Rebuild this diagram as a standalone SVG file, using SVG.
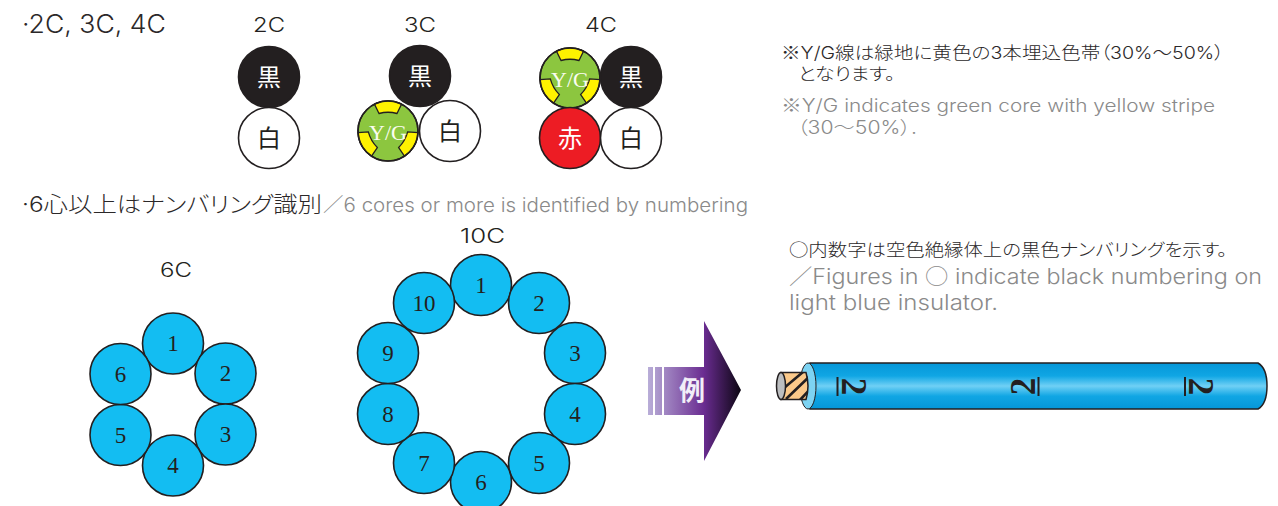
<svg xmlns="http://www.w3.org/2000/svg" width="1278" height="506" viewBox="0 0 1278 506">
<style>
text{font-family:"Inter","Noto Sans CJK JP","Noto Sans",sans-serif;font-weight:300;font-feature-settings:"palt"}
.c{stroke:#231f20;stroke-width:1.6}
.k{fill:#231f20}.w{fill:#fff}.r{fill:#ed1c24}.g{fill:#8cc63f}.b{fill:#13bdf2}
text.kj{font-family:"Noto Sans CJK JP",sans-serif;font-size:24px;text-anchor:middle;font-weight:400}
.t{fill:#231f20}
.h{font-size:20px;fill:#231f20}
text.n{font-family:"Liberation Serif",serif;font-weight:400;font-size:23px;text-anchor:middle;fill:#231f20}
text.yg{font-family:"Liberation Serif",serif;font-weight:400;font-size:22px;text-anchor:middle;fill:#fbfdf2}
.gr{fill:#8a8a8a}
.bk{fill:#2b2829}
tspan.j{font-family:"Noto Sans CJK JP",sans-serif}
text.d{font-family:"Liberation Serif",serif;font-weight:700;font-size:35px;text-anchor:middle;fill:#231f20}
</style>
<defs>
<path id="ys" d="M-13.500-26.800A30 30 0 0 1 13.500-26.800L9-17.500Q0-20-9-17.500Z" fill="#fff200" stroke="#231f20" stroke-width="1.300"/>
<g id="yg"><circle r="30" class="g c"/><use href="#ys"/><use href="#ys" transform="rotate(120)"/><use href="#ys" transform="rotate(240)"/><circle r="30" fill="none" class="c"/><text y="9" class="yg">Y/G</text></g>
<linearGradient id="ag" gradientUnits="userSpaceOnUse" x1="648" y1="0" x2="741" y2="0"><stop offset="0" stop-color="#b9aed8"/><stop offset="0.6" stop-color="#6a2c91"/><stop offset="1" stop-color="#0c0612"/></linearGradient>
<linearGradient id="cg" x1="0" y1="0" x2="0" y2="1"><stop offset="0" stop-color="#0596d8"/><stop offset="0.28" stop-color="#10a6e4"/><stop offset="0.5" stop-color="#70d0f5"/><stop offset="0.72" stop-color="#10a6e4"/><stop offset="1" stop-color="#0596d8"/></linearGradient>
<clipPath id="cc"><path d="M782 372H808V400H782Z"/></clipPath>
</defs>

<g id="headings">
<text x="22" y="33" font-size="25" class="bk" textLength="144" lengthAdjust="spacingAndGlyphs">·2C, 3C, 4C</text>
<text x="253" y="32" class="h" textLength="32" lengthAdjust="spacingAndGlyphs">2C</text>
<text x="404" y="32" class="h" textLength="32" lengthAdjust="spacingAndGlyphs">3C</text>
<text x="585" y="32" class="h" textLength="32" lengthAdjust="spacingAndGlyphs">4C</text>
<text x="22" y="212" font-size="22" class="bk" textLength="300" lengthAdjust="spacingAndGlyphs">·6心以上はナンバリング識別</text>
<text x="323" y="212" font-size="19.500" class="gr" textLength="425" lengthAdjust="spacingAndGlyphs">／6 cores or more is identified by numbering</text>
<text x="160" y="277" class="h" textLength="32" lengthAdjust="spacingAndGlyphs">6C</text>
<text x="460" y="243" class="h" textLength="45" lengthAdjust="spacingAndGlyphs">10C</text>
</g>

<g id="c2">
<circle cx="269" cy="77" r="30.500" class="k c"/><text x="269" y="86" class="kj w">黒</text>
<circle cx="269" cy="138" r="30.500" class="w c"/><text x="269" y="147" class="kj t">白</text>
</g>
<g id="c3">
<circle cx="420" cy="76" r="30.500" class="k c"/><text x="420" y="85" class="kj w">黒</text>
<use href="#yg" x="388" y="131"/>
<circle cx="450" cy="131" r="30.500" class="w c"/><text x="450" y="140" class="kj t">白</text>
</g>
<g id="c4">
<use href="#yg" x="570" y="78"/>
<circle cx="631" cy="77" r="30.500" class="k c"/><text x="631" y="86" class="kj w">黒</text>
<circle cx="570" cy="138" r="30.500" class="r c"/><text x="570" y="147" class="kj w">赤</text>
<circle cx="631" cy="138" r="30.500" class="w c"/><text x="631" y="147" class="kj t">白</text>
</g>

<g id="c6">
<circle cx="173" cy="343.500" r="30.500" class="b c"/><text x="173" y="351" class="n">1</text>
<circle cx="225.500" cy="373.500" r="30.500" class="b c"/><text x="225.500" y="381" class="n">2</text>
<circle cx="225.500" cy="434.500" r="30.500" class="b c"/><text x="225.500" y="442" class="n">3</text>
<circle cx="173" cy="465.500" r="30.500" class="b c"/><text x="173" y="473" class="n">4</text>
<circle cx="120.500" cy="435" r="30.500" class="b c"/><text x="120.500" y="443" class="n">5</text>
<circle cx="120.500" cy="374" r="30.500" class="b c"/><text x="120.500" y="382" class="n">6</text>
</g>
<g id="c10">
<circle cx="481" cy="285" r="30.500" class="b c"/><text x="481" y="293" class="n">1</text>
<circle cx="539" cy="303" r="30.500" class="b c"/><text x="539" y="311" class="n">2</text>
<circle cx="575" cy="353" r="30.500" class="b c"/><text x="575" y="361" class="n">3</text>
<circle cx="575" cy="414" r="30.500" class="b c"/><text x="575" y="422" class="n">4</text>
<circle cx="539" cy="463" r="30.500" class="b c"/><text x="539" y="471" class="n">5</text>
<circle cx="481" cy="482" r="30.500" class="b c"/><text x="481" y="490" class="n">6</text>
<circle cx="424" cy="463" r="30.500" class="b c"/><text x="424" y="471" class="n">7</text>
<circle cx="388" cy="414" r="30.500" class="b c"/><text x="388" y="422" class="n">8</text>
<circle cx="388" cy="353" r="30.500" class="b c"/><text x="388" y="361" class="n">9</text>
<circle cx="424" cy="303" r="30.500" class="b c"/><text x="424" y="311" class="n">10</text>
</g>

<g id="notes">
<text x="781" y="59" font-size="17.500" class="bk" textLength="443" lengthAdjust="spacingAndGlyphs"><tspan class="j">※</tspan>Y/G線は緑地に黄色の3本埋込色帯（30%～50%）</text>
<text x="798" y="80" font-size="17.500" class="bk" textLength="97" lengthAdjust="spacingAndGlyphs">となります。</text>
<text x="781" y="112" font-size="18" class="gr" textLength="434" lengthAdjust="spacingAndGlyphs"><tspan class="j">※</tspan>Y/G indicates green core with yellow stripe</text>
<text x="797" y="134" font-size="18" class="gr" textLength="120" lengthAdjust="spacingAndGlyphs">（30～50%）.</text>
<text x="789" y="256" font-size="17.500" class="bk" textLength="438" lengthAdjust="spacingAndGlyphs"><tspan class="j">○</tspan>内数字は空色絶縁体上の黒色ナンバリングを示す。</text>
<text x="789" y="284" font-size="21.500" class="gr" textLength="473" lengthAdjust="spacingAndGlyphs">／Figures in <tspan class="j">○</tspan> indicate black numbering on</text>
<text x="789" y="310" font-size="21.500" class="gr" textLength="209" lengthAdjust="spacingAndGlyphs">light blue insulator.</text>
</g>

<g id="arrow">
<path d="M648 367H653V415H648ZM655 367H662V415H655ZM664 367H704V321L741 390L704 461V415H664Z" fill="url(#ag)"/>
<text x="692" y="400" font-size="26" text-anchor="middle" fill="#f2eef8" style="font-family:'Noto Sans CJK JP',sans-serif;font-weight:700">例</text>
</g>

<g id="cable">
<path d="M810 363H1258Q1267 368 1267 386Q1267 404 1258 409H810Z" fill="url(#cg)" stroke="#231f20" stroke-width="1.500"/>
<ellipse cx="808" cy="386" rx="8" ry="23" fill="#7dd3f2" stroke="#231f20" stroke-width="1"/>
<path d="M781 372.500H806Q810 386 806 399.500H781Z" fill="#fbc98a" stroke="#231f20" stroke-width="1.500"/>
<g clip-path="url(#cc)" stroke="#231f20" stroke-width="2.600">
<path d="M784 388L803 372M786 399L810 376M800 400L812 387"/>
</g>
<ellipse cx="781" cy="386" rx="4.500" ry="13.500" fill="#bcbec0" stroke="#231f20" stroke-width="1.500"/>
<text class="d" transform="translate(842 386.500) rotate(90)">2</text>
<rect x="836.500" y="377" width="2" height="19" fill="#231f20"/>
<text class="d" transform="translate(1035 386.500) rotate(-90)">2</text>
<rect x="1037.500" y="377" width="2" height="19" fill="#231f20"/>
<text class="d" transform="translate(1189 386.500) rotate(90)">2</text>
<rect x="1184" y="377" width="2" height="19" fill="#231f20"/>
</g>
</svg>
